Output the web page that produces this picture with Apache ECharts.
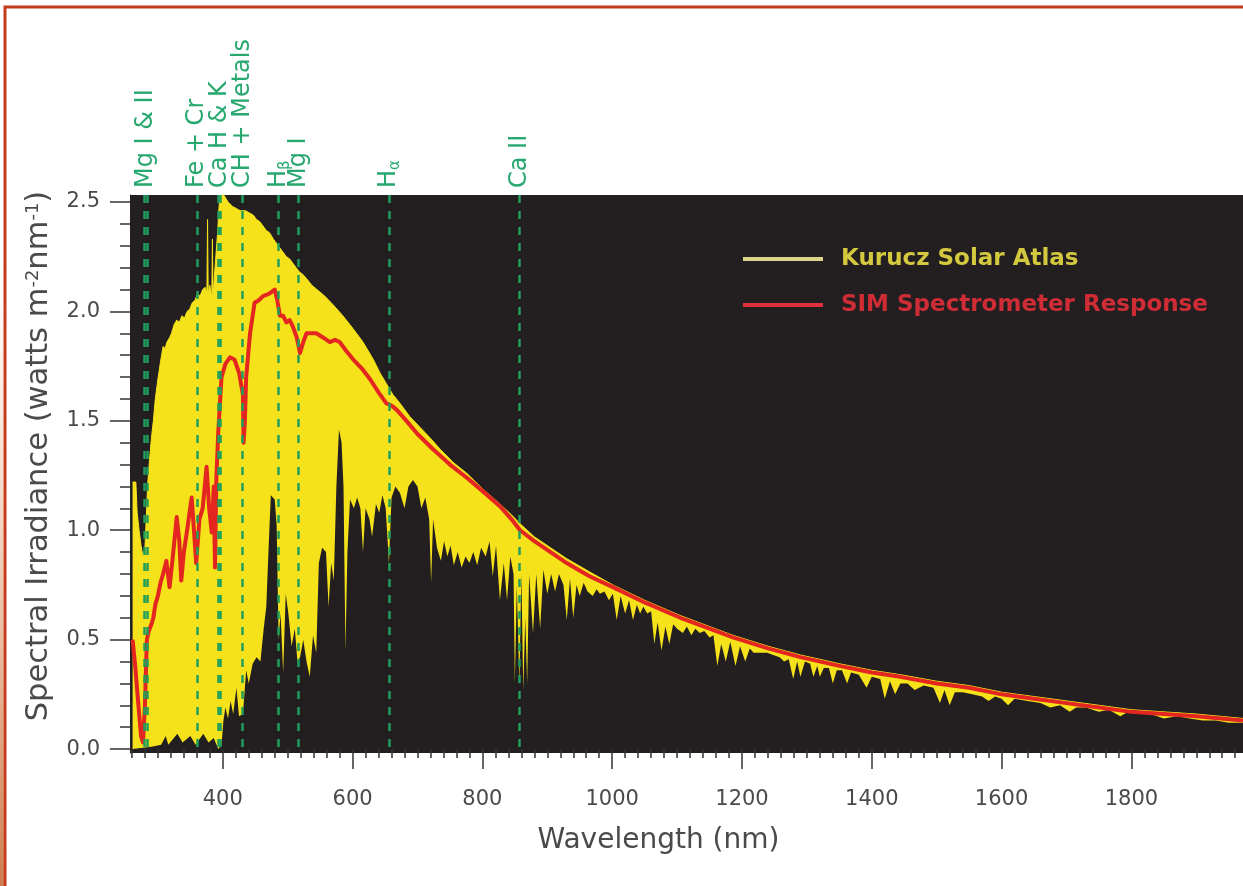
<!DOCTYPE html>
<html>
<head>
<meta charset="utf-8">
<script src="https://cdn.jsdelivr.net/npm/echarts@6.0.0/dist/echarts.min.js"></script>
</head>
<body style="margin:0;background:#fff">
<div id="container" style="width:1243px;height:886px"></div>
<script>
// axis ranges / tick labels
var X_MIN = 257, X_MAX = 1972;
var Y_MIN = -0.018, Y_MAX = 2.532;
var wavelengthTicks = [400, 600, 800, 1000, 1200, 1400, 1600, 1800];
var irradianceTicks = [0, 0.5, 1.0, 1.5, 2.0, 2.5];

// Kurucz atlas: top of the yellow band (nm, W m-2 nm-1)
var kuruczTop = [
  [261,1.22],[266,1.22],[268,1.08],[271,1.0],[274,0.93],[277,0.88],[280,0.92],[282,1.05],[284,1.2],
  [287,1.32],[290,1.42],[293,1.5],[296,1.6],[300,1.69],[304,1.77],[308,1.84],[311,1.83],[314,1.86],
  [318,1.88],[321,1.9],[325,1.94],[329,1.96],[333,1.95],[337,1.98],[341,1.97],[345,2.0],[349,2.01],
  [353,2.04],[357,2.05],[361,2.08],[365,2.07],[369,2.1],[373,2.11],[375.5,2.08],[376.5,2.42],[377.5,2.08],
  [380,2.12],[383,2.06],[384,2.33],[385,2.06],[387,2.16],[390,2.28],[392,2.36],[394,2.47],[396,2.53],
  [402,2.53],[408,2.5],[415,2.48],[421,2.47],[427,2.46],[435,2.46],[441,2.45],[447,2.44],[452,2.42],
  [457,2.41],[462,2.39],[467,2.37],[472,2.36],[478,2.33],[483,2.31],[488,2.29],[493,2.27],[498,2.25],
  [503,2.24],[508,2.22],[513,2.2],[518,2.18],[523,2.17],[529,2.15],[537,2.12],[545,2.1],[557,2.07],
  [570,2.03],[585,1.98],[601,1.92],[616,1.86],[632,1.78],[642,1.72],[652,1.67],[662,1.62],[673,1.58],
  [688,1.52],[704,1.47],[720,1.42],[735,1.37],[755,1.31],[776,1.26],[800,1.19],[827,1.12],[845,1.07],
  [858,1.03],[880,0.97],[905,0.92],[930,0.87],[965,0.81],[1001,0.75],[1050,0.68],[1105,0.61],[1150,0.56],
  [1186,0.52],[1240,0.47],[1290,0.43],[1350,0.39],[1400,0.36],[1444,0.34],[1500,0.31],[1550,0.29],
  [1600,0.26],[1650,0.24],[1700,0.22],[1750,0.2],[1800,0.18],[1850,0.17],[1900,0.16],[1972,0.14]
];

// Kurucz atlas: bottom of the yellow band (deepest absorption in each stretch)
var kuruczFloor = [
  [261,0.0],[290,0.01],[305,0.02],[312,0.06],[316,0.02],[330,0.07],[338,0.03],[350,0.06],[358,0.02],
  [370,0.07],[378,0.03],[386,0.05],[393,0.0],[398,0.02],[401,0.13],[404,0.19],[408,0.14],[412,0.22],
  [416,0.16],[421,0.28],[425,0.15],[431,0.16],[436,0.36],[440,0.3],[446,0.39],[452,0.42],[458,0.4],
  [463,0.55],[467,0.65],[471,0.95],[474,1.16],[480,1.14],[483,1.02],[486,0.5],[489,0.62],[493,0.35],
  [497,0.71],[501,0.62],[506,0.47],[511,0.55],[515,0.4],[519,0.42],[524,0.5],[529,0.4],[534,0.33],
  [539,0.52],[544,0.44],[548,0.85],[553,0.92],[559,0.9],[563,0.65],[567,0.85],[571,0.77],[575,1.2],
  [579,1.46],[583,1.4],[586,1.2],[589,0.45],[592,0.9],[596,1.14],[602,1.1],[607,1.15],[612,1.1],
  [616,0.9],[620,1.1],[626,1.05],[630,0.97],[636,1.12],[641,1.08],[646,1.16],[651,1.1],[656,0.85],
  [660,1.15],[666,1.2],[673,1.17],[680,1.1],[686,1.2],[693,1.23],[700,1.2],[706,1.1],[712,1.15],
  [718,1.05],[721,0.76],[724,1.05],[730,0.92],[736,0.86],[741,0.95],[746,0.88],[751,0.93],[756,0.84],
  [762,0.9],[768,0.83],[774,0.88],[780,0.85],[786,0.9],[792,0.84],[798,0.92],[805,0.88],[811,0.95],
  [816,0.79],[821,0.93],[827,0.68],[833,0.85],[838,0.68],[843,0.88],[848,0.8],[850,0.3],[853,0.75],
  [857,0.3],[860,0.8],[863,0.27],[866,0.6],[869,0.3],[872,0.8],[878,0.53],[883,0.8],[889,0.55],
  [894,0.82],[900,0.71],[906,0.8],[912,0.72],[918,0.8],[925,0.75],[930,0.59],[935,0.78],[940,0.6],
  [945,0.75],[950,0.7],[956,0.76],[962,0.72],[970,0.7],[976,0.73],[981,0.71],[988,0.72],[995,0.68],
  [1001,0.71],[1007,0.59],[1013,0.7],[1020,0.62],[1026,0.68],[1032,0.59],[1038,0.66],[1043,0.62],
  [1048,0.65],[1054,0.62],[1060,0.63],[1065,0.48],[1070,0.58],[1076,0.45],[1082,0.56],[1088,0.48],
  [1094,0.57],[1100,0.55],[1109,0.53],[1115,0.56],[1122,0.52],[1128,0.55],[1135,0.53],[1142,0.54],
  [1150,0.51],[1156,0.52],[1162,0.38],[1168,0.48],[1175,0.4],[1182,0.49],[1190,0.38],[1197,0.47],
  [1205,0.4],[1212,0.46],[1218,0.44],[1226,0.44],[1232,0.44],[1239,0.44],[1248,0.43],[1258,0.42],
  [1265,0.4],[1272,0.41],[1279,0.32],[1285,0.4],[1290,0.33],[1297,0.4],[1305,0.39],[1310,0.33],
  [1316,0.38],[1320,0.33],[1326,0.37],[1334,0.37],[1340,0.3],[1346,0.36],[1354,0.36],[1362,0.3],
  [1368,0.35],[1380,0.34],[1392,0.28],[1400,0.33],[1413,0.32],[1420,0.23],[1428,0.31],[1436,0.25],
  [1444,0.3],[1455,0.3],[1466,0.27],[1480,0.29],[1495,0.28],[1505,0.21],[1512,0.27],[1520,0.2],
  [1528,0.26],[1540,0.26],[1555,0.25],[1570,0.24],[1580,0.22],[1590,0.24],[1600,0.23],[1610,0.2],
  [1620,0.23],[1640,0.22],[1660,0.21],[1675,0.19],[1690,0.2],[1705,0.17],[1715,0.19],[1730,0.19],
  [1750,0.17],[1765,0.18],[1783,0.15],[1795,0.17],[1810,0.16],[1830,0.16],[1850,0.14],[1870,0.15],
  [1890,0.14],[1910,0.13],[1930,0.13],[1950,0.12],[1972,0.12]
];

// SIM spectrometer response
var simResponse = [
  [261,0.5],[265,0.38],[270,0.2],[274,0.06],[277,0.03],[280,0.2],[283,0.5],[286,0.54],[290,0.57],
  [293,0.6],[296,0.66],[300,0.7],[304,0.76],[308,0.8],[313,0.86],[318,0.74],[323,0.88],[329,1.06],
  [333,0.95],[336,0.77],[340,0.9],[345,1.0],[352,1.15],[356,0.98],[359,0.85],[364,1.05],[369,1.1],
  [375,1.29],[379,1.1],[383,0.99],[386,1.2],[388,0.83],[390,1.23],[393,1.45],[398,1.7],[404,1.76],
  [411,1.79],[418,1.78],[425,1.72],[431,1.62],[432,1.4],[434,1.5],[436,1.7],[442,1.9],[449,2.04],
  [455,2.05],[462,2.07],[471,2.08],[480,2.1],[484,2.05],[488,1.98],[493,1.98],[498,1.95],[503,1.96],
  [508,1.93],[514,1.88],[519,1.81],[524,1.86],[529,1.9],[537,1.9],[544,1.9],[555,1.88],[565,1.86],
  [573,1.87],[580,1.86],[590,1.82],[601,1.78],[614,1.74],[627,1.69],[640,1.63],[652,1.58],[660,1.57],
  [668,1.55],[680,1.51],[700,1.44],[724,1.37],[750,1.3],[776,1.24],[800,1.18],[827,1.11],[845,1.05],
  [858,1.0],[880,0.95],[905,0.9],[930,0.85],[965,0.79],[1001,0.74],[1050,0.67],[1105,0.6],[1150,0.55],
  [1186,0.51],[1240,0.46],[1290,0.42],[1350,0.38],[1400,0.35],[1444,0.33],[1500,0.3],[1550,0.28],
  [1600,0.25],[1650,0.23],[1700,0.21],[1750,0.19],[1800,0.17],[1850,0.16],[1900,0.15],[1972,0.13]
];

// marked absorption features
var featureNames = ['Mg I & II', 'Fe + Cr', 'Ca H & K', 'CH + Metals', 'H{s|\u03b2}', 'Mg I', 'H{s|\u03b1}', 'Ca II'];
var featureLabelNm = [281.5, 360, 395, 430, 486, 517, 656, 857];
var featureLinesNm = [279, 284, 360, 393.4, 396.8, 430, 486, 517, 656, 857];

var minorX = [];
for (var w = 260; w <= 1960; w += 20) minorX.push(w);
var minorY = [];
for (var k = 0; k <= 25; k++) minorY.push(k / 10);

var FONT = 'DejaVu Sans';
var GRAY = '#4a4a4a';
var PLOT_BG = '#231f20';
var YELLOW = '#f5e21b';

var dom = document.getElementById('container');
var myChart = echarts.init(dom);

var option = {
  animation: false,
  backgroundColor: '#ffffff',
  grid: {
    left: 130, right: 0, top: 195, bottom: 133,
    show: true, backgroundColor: PLOT_BG, borderWidth: 0
  },
  legend: {
    orient: 'vertical',
    left: 738, top: 242,
    itemWidth: 80, itemHeight: 4, itemGap: 22,
    selectedMode: false,
    textStyle: { fontFamily: FONT, fontSize: 23, fontWeight: 'bold', lineHeight: 24, padding: [0, 0, 0, 13] },
    data: [
      { name: 'Kurucz Solar Atlas', icon: 'rect', itemStyle: { color: '#dcd68a' }, textStyle: { color: '#d3c83e' } },
      { name: 'SIM Spectrometer Response', icon: 'rect', itemStyle: { color: '#e0303c' }, textStyle: { color: '#cf2c36' } }
    ]
  },
  xAxis: [{
    type: 'value', min: X_MIN, max: X_MAX, position: 'bottom',
    name: 'Wavelength (nm)', nameLocation: 'middle', nameGap: 74,
    nameTextStyle: { fontFamily: FONT, fontSize: 28, color: GRAY, padding: [0, 56, 0, 0] },
    axisLine: { show: true, lineStyle: { color: '#222', width: 1 } },
    axisTick: { show: true, inside: false, length: 20, customValues: wavelengthTicks, lineStyle: { color: '#333', width: 1.5 } },
    axisLabel: {
      customValues: wavelengthTicks, margin: 36, fontFamily: FONT, fontSize: 21, color: GRAY,
      formatter: function (v) { return String(v); }
    },
    splitLine: { show: false }
  }, {
    type: 'value', min: X_MIN, max: X_MAX, position: 'bottom',
    axisLine: { show: false },
    axisTick: { show: true, inside: false, length: 9, customValues: minorX, lineStyle: { color: '#333', width: 1.5 } },
    axisLabel: { show: false },
    splitLine: { show: false }
  }],
  yAxis: [{
    type: 'value', min: Y_MIN, max: Y_MAX, position: 'left',
    name: 'Spectral Irradiance (watts m{sup|-2}nm{sup|-1})',
    nameLocation: 'middle', nameGap: 75,
    nameTextStyle: {
      fontFamily: FONT, fontSize: 30.5, color: GRAY, padding: [0, 0, 0, 36],
      rich: { sup: { fontFamily: FONT, fontSize: 18, color: GRAY, verticalAlign: 'top' } }
    },
    axisLine: { show: true, lineStyle: { color: '#222', width: 1 } },
    axisTick: { show: true, inside: false, length: 20, customValues: irradianceTicks, lineStyle: { color: '#333', width: 1.5 } },
    axisLabel: {
      customValues: irradianceTicks, margin: 30, fontFamily: FONT, fontSize: 21, color: GRAY,
      formatter: function (v) { return v.toFixed(1); }
    },
    splitLine: { show: false }
  }, {
    type: 'value', min: Y_MIN, max: Y_MAX, position: 'left',
    axisLine: { show: false },
    axisTick: { show: true, inside: false, length: 10, customValues: minorY, lineStyle: { color: '#333', width: 1.5 } },
    axisLabel: { show: false },
    splitLine: { show: false }
  }],
  graphic: [{
    type: 'rect', silent: true,
    shape: { x: 5, y: 7, width: 1260, height: 900 },
    style: { fill: 'none', stroke: '#c63a1d', lineWidth: 3 }
  }, {
    type: 'rect', silent: true,
    shape: { x: 0, y: 260, width: 4, height: 626 },
    style: {
      fill: new echarts.graphic.LinearGradient(0, 0, 0, 1, [
        { offset: 0, color: 'rgba(240,170,120,0)' },
        { offset: 1, color: 'rgba(200,110,60,0.9)' }
      ])
    }
  }],
  series: [{
    name: 'Kurucz Solar Atlas',
    type: 'line',
    data: kuruczTop,
    showSymbol: false, symbol: 'none', silent: true,
    lineStyle: { color: YELLOW, width: 1 },
    areaStyle: { color: YELLOW, opacity: 1 },
    z: 2
  }, {
    name: 'kurucz floor',
    type: 'line',
    data: kuruczFloor,
    showSymbol: false, symbol: 'none', silent: true,
    lineStyle: { width: 0, color: PLOT_BG },
    areaStyle: { color: PLOT_BG, opacity: 1 },
    z: 3
  }, {
    name: 'SIM Spectrometer Response',
    type: 'line',
    data: simResponse,
    showSymbol: false, symbol: 'none', silent: true,
    lineStyle: { color: '#e3261f', width: 4, join: 'round' },
    z: 4
  }, {
    name: 'features',
    type: 'lines',
    coordinateSystem: 'cartesian2d',
    silent: true,
    z: 5,
    lineStyle: { color: '#1f9e5c', width: 2.5, type: [8, 8], opacity: 1 },
    data: featureLinesNm.map(function (nm) {
      return { coords: [[nm, Y_MAX], [nm, Y_MIN]] };
    })
  }, {
    name: 'feature labels',
    type: 'custom',
    coordinateSystem: 'cartesian2d',
    clip: false, silent: true, z: 6,
    data: featureLabelNm.map(function (nm, i) { return [nm, i]; }),
    renderItem: function (params, api) {
      var p = api.coord([api.value(0), Y_MAX]);
      return {
        type: 'text',
        x: p[0], y: p[1] - 7,
        rotation: Math.PI / 2,
        style: {
          text: featureNames[api.value(1)],
          fill: '#27a86e',
          fontFamily: FONT, fontSize: 24,
          align: 'left', verticalAlign: 'middle',
          rich: { s: { fontFamily: FONT, fontSize: 15, fill: '#27a86e', verticalAlign: 'bottom', padding: [12, 0, 0, 0] } }
        }
      };
    }
  }]
};

if (option && typeof option === 'object') {
  myChart.setOption(option, true);
}
</script>
</body>
</html>
